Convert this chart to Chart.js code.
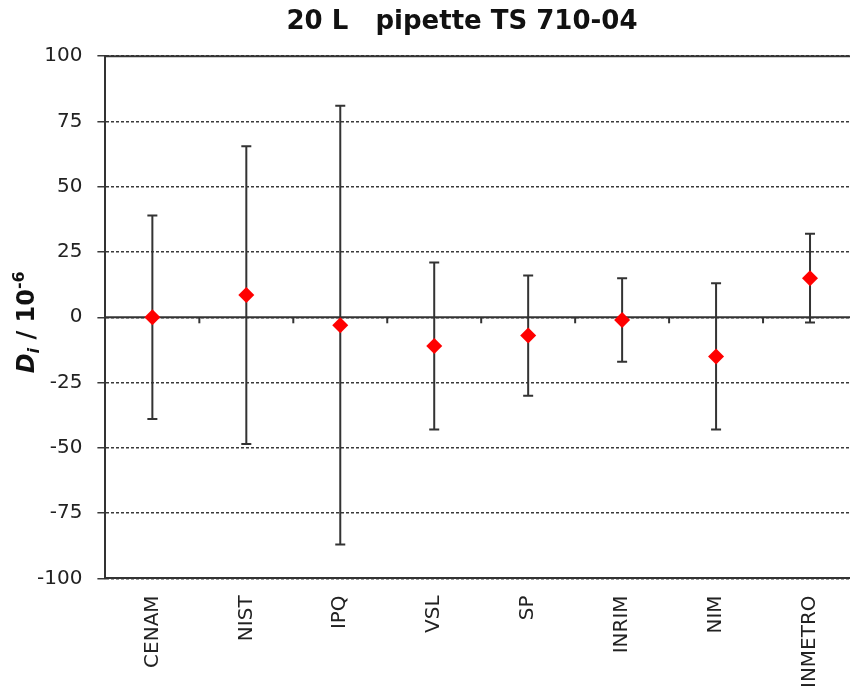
<!DOCTYPE html>
<html>
<head>
<meta charset="utf-8">
<script src="https://cdn.jsdelivr.net/npm/chart.js@4/dist/chart.umd.min.js"></script>
<style>
  html, body { margin: 0; padding: 0; background: #fff; overflow: hidden; }
  #wrap { width: 924px; height: 697px; }
</style>
</head>
<body>
<div id="wrap"><canvas id="chart_area" width="924" height="697"></canvas></div>
<script>
const labs = ["CENAM", "NIST", "IPQ", "VSL", "SP", "INRIM", "NIM", "INMETRO"];
const di = [0, 8.5, -3, -11, -7, -1, -15, 15];
const uncert = [39, 57, 84, 32, 23, 16, 28, 17];
const yTicks = [-100, -75, -50, -25, 0, 25, 50, 75, 100];
const titleText = '20 L   pipette TS 710-04';

const FONT = "'DejaVu Sans', Verdana, sans-serif";
const lineCol = '#333';

// zero line with ticks between categories, solid top border, error bars
const axisAndBars = {
  id: 'axisAndBars',
  beforeDatasetsDraw(chart) {
    const ctx = chart.ctx;
    const x = chart.scales.x, y = chart.scales.y;
    const area = chart.chartArea;
    ctx.save();
    ctx.strokeStyle = lineCol;
    ctx.lineWidth = 2;
    ctx.setLineDash([]);
    // top border
    let yt = y.getPixelForValue(100);
    ctx.beginPath();
    ctx.moveTo(area.left, yt);
    ctx.lineTo(area.right, yt);
    ctx.stroke();
    // zero line
    let y0 = y.getPixelForValue(0);
    ctx.beginPath();
    ctx.moveTo(area.left, y0);
    ctx.lineTo(area.right, y0);
    ctx.stroke();
    for (let k = 1; k < labs.length; k++) {
      let bx = x.getPixelForValue(k - 0.5);
      ctx.beginPath();
      ctx.moveTo(bx, y0);
      ctx.lineTo(bx, y0 + 6);
      ctx.stroke();
    }
    // error bars
    for (let i = 0; i < di.length; i++) {
      let px = x.getPixelForValue(i);
      let top = y.getPixelForValue(di[i] + uncert[i]);
      let bot = y.getPixelForValue(di[i] - uncert[i]);
      ctx.beginPath();
      ctx.moveTo(px, top);
      ctx.lineTo(px, bot);
      ctx.moveTo(px - 5, top);
      ctx.lineTo(px + 5, top);
      ctx.moveTo(px - 5, bot);
      ctx.lineTo(px + 5, bot);
      ctx.stroke();
    }
    ctx.restore();
  },
  afterDraw(chart) {
    const ctx = chart.ctx;
    const y = chart.scales.y;
    const area = chart.chartArea;
    ctx.save();
    // chart title, centred on the whole (cropped) chart width
    const tb = chart.titleBlock;
    ctx.font = "bold 26px " + FONT;
    ctx.fillStyle = '#111';
    ctx.textAlign = 'center';
    ctx.textBaseline = 'middle';
    ctx.fillText(titleText, chart.width / 2, tb.top + 6 + 16);
    ctx.restore();

    // y axis title: D_i / 10^-6
    const parts = [
      { t: "D", f: "italic bold 24px " + FONT, dy: 0 },
      { t: "i", f: "italic bold 16px " + FONT, dy: 5 },
      { t: " / 10", f: "bold 24px " + FONT, dy: 0 },
      { t: "-6", f: "bold 16px " + FONT, dy: -10 }
    ];
    ctx.save();
    let total = 0;
    parts.forEach(p => { ctx.font = p.f; p.w = ctx.measureText(p.t).width; total += p.w; });
    ctx.translate(y.left + 4, (area.top + area.bottom) / 2 + 5);
    ctx.rotate(-Math.PI / 2);
    ctx.fillStyle = '#111';
    ctx.textBaseline = 'alphabetic';
    let cx = -total / 2;
    parts.forEach(p => {
      ctx.font = p.f;
      ctx.fillText(p.t, cx, 8 + p.dy);
      cx += p.w;
    });
    ctx.restore();
  }
};

const ctx = document.getElementById('chart_area').getContext('2d');
const chart = new Chart(ctx, {
  type: 'line',
  data: {
    labels: labs,
    datasets: [{
      label: 'Di',
      data: di,
      showLine: false,
      pointStyle: 'rectRot',
      pointRadius: 8,
      pointHoverRadius: 8,
      pointBackgroundColor: '#ff0000',
      pointBorderColor: '#ff0000',
      pointBorderWidth: 0
    }]
  },
  options: {
    responsive: false,
    animation: false,
    layout: { padding: { left: 22, right: 67, bottom: 0, top: 0 } },
    plugins: {
      legend: { display: false },
      tooltip: { enabled: false },
      title: {
        display: true,
        text: titleText,
        color: 'rgba(0,0,0,0)',
        font: { family: FONT, size: 26, weight: 'bold' },
        padding: { top: 6, bottom: 19 }
      }
    },
    scales: {
      x: {
        type: 'category',
        offset: true,
        grid: { display: false },
        border: { display: true, color: lineCol, width: 2 },
        ticks: {
          color: '#222',
          font: { family: FONT, size: 20 },
          minRotation: 90,
          maxRotation: 90,
          padding: 9,
          autoSkip: false
        }
      },
      y: {
        min: -100,
        max: 100,
        afterBuildTicks: (s) => { s.ticks = yTicks.map(v => ({ value: v })); },
        grid: {
          color: '#3a3a3a',
          lineWidth: 1.5,
          tickLength: 8,
          drawTicks: true
        },
        border: { display: true, color: lineCol, width: 2, dash: [3, 2] },
        ticks: {
          color: '#222',
          font: { family: FONT, size: 20 },
          padding: 15
        }
      }
    }
  },
  plugins: [axisAndBars]
});
</script>
</body>
</html>
